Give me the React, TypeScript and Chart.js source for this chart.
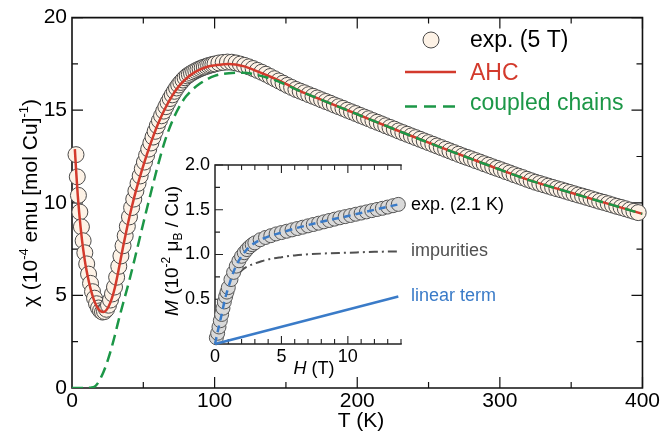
import React, { useEffect, useRef } from 'react';
import { Chart, registerables } from 'chart.js';

Chart.register(...registerables);

const FONT = '"Liberation Sans", Arial, Helvetica, sans-serif';

// ---------- main chart data ----------
const tempK = [
  2.8, 3.7, 4.5, 5.5, 6.6, 7.8, 9, 10.3, 11.6, 13, 14.4, 15.8, 17.2, 18.6, 20, 21.4, 22.8, 24.2, 25.6, 27, 28.4, 29.8,
  31.3, 32.8, 34.3, 35.8, 37.3, 38.8, 40.3, 41.8, 43.3, 44.8, 46.3, 47.8, 49.3, 50.8, 52.3, 53.8, 55.3, 56.8, 58.3, 59.8,
  61.3, 62.8, 64.3, 65.8, 67.3, 68.8, 70.3, 71.8, 73.3, 74.8, 76.3, 77.8, 79.3, 80.8, 82.3, 83.8, 85.3, 86.8, 88.3, 89.8,
  91.3, 92.8, 94.3, 95.8, 97.3, 98.8, 100.3,
  103, 106, 109, 112, 115, 118, 121, 124, 127, 130, 133, 136, 139, 142, 145, 148, 151, 154, 157, 160,
  163, 166, 169, 172, 175, 178, 181, 184, 187, 190, 193, 196, 199, 202, 205, 208, 211, 214, 217, 220,
  223, 226, 229, 232, 235, 238, 241, 244, 247, 250, 253, 256, 259, 262, 265, 268, 271, 274, 277, 280,
  283, 286, 289, 292, 295, 298, 301, 304, 307, 310, 313, 316, 319, 322, 325, 328, 331, 334, 337, 340,
  343, 346, 349, 352, 355, 358, 361, 364, 367, 370, 373, 376, 379, 382, 385, 388, 391, 394, 397,
];
const chiExp = [
  12.6, 11.4, 10.4, 9.5, 8.7, 7.95, 7.3, 6.7, 6.15, 5.65, 5.2, 4.85, 4.55, 4.32, 4.17, 4.1, 4.13, 4.25, 4.47, 4.75, 5.08, 5.45,
  5.98, 6.57, 7.13, 7.68, 8.22, 8.73, 9.24, 9.74, 10.2, 10.64, 11.05, 11.45, 11.84, 12.2, 12.56, 12.9, 13.23, 13.55, 13.86, 14.16,
  14.44, 14.7, 14.95, 15.19, 15.42, 15.63, 15.83, 16.02, 16.2, 16.36, 16.5, 16.63, 16.75, 16.85, 16.93, 17.0, 17.07, 17.13, 17.19, 17.24,
  17.29, 17.33, 17.37, 17.41, 17.44, 17.47, 17.5,
  17.55, 17.58, 17.6, 17.59, 17.55, 17.49, 17.42, 17.34, 17.25, 17.15, 17.05, 16.94, 16.82, 16.7, 16.58, 16.46, 16.34, 16.23, 16.12, 16.03,
  15.94, 15.84, 15.75, 15.66, 15.56, 15.47, 15.38, 15.28, 15.19, 15.1, 15.0, 14.91, 14.82, 14.72, 14.63, 14.54, 14.44, 14.35, 14.26, 14.16,
  14.07, 13.98, 13.88, 13.79, 13.7, 13.61, 13.52, 13.43, 13.34, 13.25, 13.16, 13.07, 12.98, 12.89, 12.8, 12.71, 12.62, 12.53, 12.45, 12.37,
  12.28, 12.2, 12.11, 12.03, 11.94, 11.86, 11.78, 11.69, 11.61, 11.52, 11.44, 11.36, 11.27, 11.19, 11.11, 11.04, 10.97, 10.9, 10.83, 10.76,
  10.7, 10.63, 10.56, 10.49, 10.42, 10.36, 10.29, 10.22, 10.15, 10.08, 10.02, 9.95, 9.88, 9.81, 9.75, 9.68, 9.61, 9.54, 9.47,
];

const ahcT = [2, 3, 4, 5, 6, 7, 8, 9, 10, 12, 14, 16, 18, 20, 22, 24, 26, 28, 30, 33, 36, 39, 42, 45, 48, 51, 54, 57, 60, 65, 70, 75, 80, 85, 90, 95, 100, 110, 120, 130, 140, 150, 160, 175, 200, 230, 260, 290, 320, 350, 375, 400];
const ahcChi = [12.9, 11.6, 10.45, 9.5, 8.7, 8.0, 7.4, 6.88, 6.42, 5.68, 5.08, 4.63, 4.32, 4.15, 4.1, 4.2, 4.45, 4.85, 5.4, 6.5, 7.7, 8.8, 9.8, 10.7, 11.5, 12.25, 12.95, 13.6, 14.2, 15.05, 15.75, 16.3, 16.7, 17.0, 17.2, 17.35, 17.42, 17.5, 17.38, 17.1, 16.78, 16.42, 16.03, 15.56, 14.78, 13.85, 12.95, 12.08, 11.24, 10.54, 9.97, 9.4];

const chainT = [0, 5, 10, 13, 16, 18, 20, 22, 24, 26, 28, 30, 32, 34, 37, 40, 45, 50, 55, 60, 65, 70, 75, 80, 90, 100, 110, 120, 130, 140, 150, 160, 175, 200, 230, 260, 290, 320, 350, 375, 400];
const chainChi = [0, 0, 0, 0.02, 0.08, 0.25, 0.52, 0.85, 1.25, 1.72, 2.25, 2.82, 3.45, 4.05, 4.9, 5.75, 7.3, 8.9, 10.45, 11.95, 13.3, 14.35, 15.15, 15.75, 16.45, 16.85, 17.0, 17.02, 16.9, 16.68, 16.38, 16.03, 15.56, 14.78, 13.85, 12.95, 12.08, 11.24, 10.54, 9.97, 9.4];

const mainXTicks = [0, 100, 200, 300, 400];
const mainYTicks = [0, 5, 10, 15, 20];

// ---------- inset data ----------
const fieldH = [
  0.1, 0.2, 0.3, 0.4, 0.5, 0.6, 0.7, 0.8, 0.9, 1.0, 1.2, 1.4, 1.6, 1.8, 2.0, 2.2, 2.4, 2.6, 2.8, 3.0,
  3.4, 3.8, 4.2, 4.6, 5.0, 5.4, 5.8, 6.2, 6.6, 7.0, 7.4, 7.8, 8.2, 8.6, 9.0, 9.4, 9.8, 10.2, 10.6, 11.0,
  11.4, 11.8, 12.2, 12.6, 13.0, 13.4, 13.8,
];
const magExp = [
  0.07, 0.12, 0.19, 0.26, 0.33, 0.4, 0.47, 0.53, 0.58, 0.63, 0.72, 0.8, 0.87, 0.93, 0.98, 1.02, 1.055, 1.085, 1.11, 1.13,
  1.165, 1.19, 1.21, 1.23, 1.245, 1.26, 1.275, 1.29, 1.305, 1.32, 1.335, 1.35, 1.365, 1.38, 1.395, 1.41, 1.423, 1.436, 1.45, 1.463,
  1.476, 1.49, 1.503, 1.516, 1.53, 1.545, 1.56,
];
const fitH = [0, 0.25, 0.5, 0.75, 1, 1.5, 2, 2.5, 3, 4, 5, 6, 8, 10, 12, 13.8];
const fitM = [0, 0.17, 0.33, 0.5, 0.63, 0.845, 0.98, 1.07, 1.13, 1.2, 1.245, 1.29, 1.365, 1.43, 1.5, 1.56];
const impH = [0, 0.5, 1, 1.5, 2, 2.5, 3, 3.5, 4, 5, 6, 8, 10, 12, 13.8];
const impM = [0, 0.3, 0.55, 0.72, 0.82, 0.87, 0.9, 0.925, 0.945, 0.97, 0.99, 1.01, 1.02, 1.03, 1.035];
const linH = [0, 13.8];
const linM = [0, 0.53];

const insetXTicks = [0, 5, 10];
const insetYTicks = [0.5, 1.0, 1.5, 2.0];

const pts = (xs: number[], ys: number[]) => xs.map((x, i) => ({ x, y: ys[i] }));

type Run = { text: string; size: number; shift?: number; italic?: boolean };

function drawRich(ctx: CanvasRenderingContext2D, runs: Run[], x: number, y: number, rotate: boolean, color: string, align: 'center' | 'left' = 'center') {
  ctx.save();
  ctx.translate(x, y);
  if (rotate) ctx.rotate(-Math.PI / 2);
  ctx.fillStyle = color;
  ctx.textBaseline = 'alphabetic';
  ctx.textAlign = 'left';
  const fnt = (r: Run) => `${r.italic ? 'italic ' : ''}${r.size}px ${FONT}`;
  const widths = runs.map((r) => {
    ctx.font = fnt(r);
    return ctx.measureText(r.text).width;
  });
  const total = widths.reduce((a, b) => a + b, 0);
  let cx = align === 'center' ? -total / 2 : 0;
  runs.forEach((r, i) => {
    ctx.font = fnt(r);
    ctx.fillText(r.text, cx, -(r.shift || 0));
    cx += widths[i];
  });
  ctx.restore();
}

type FrameCfg = {
  id: string; top: boolean; right: boolean; xMinor: number; xMajor: number; yMinor: number; yMajor: number;
  major: number; minor: number; color: string; frameWidth: number; tickWidth: number;
};

const isMult = (v: number, m: number) => Math.abs(v / m - Math.round(v / m)) < 1e-6;

function framePlugin(cfg: FrameCfg) {
  return {
    id: cfg.id,
    beforeDatasetsDraw(chart: any) {
      const { ctx, chartArea: a } = chart;
      const xs = chart.scales.x;
      const ys = chart.scales.y;
      ctx.save();
      ctx.strokeStyle = cfg.color;
      ctx.lineWidth = cfg.frameWidth;
      ctx.lineCap = 'square';
      ctx.beginPath();
      ctx.moveTo(a.left, a.top);
      ctx.lineTo(a.left, a.bottom);
      ctx.lineTo(a.right, a.bottom);
      if (cfg.right) ctx.lineTo(a.right, a.top);
      if (cfg.top) {
        ctx.moveTo(a.left, a.top);
        ctx.lineTo(a.right, a.top);
      }
      ctx.stroke();
      ctx.lineCap = 'butt';
      ctx.lineWidth = cfg.tickWidth;
      ctx.beginPath();
      const nx = Math.round((xs.max - xs.min) / cfg.xMinor);
      for (let i = 1; i <= nx; i++) {
        const v = xs.min + i * cfg.xMinor;
        const px = xs.getPixelForValue(v);
        const L = isMult(v, cfg.xMajor) ? cfg.major : cfg.minor;
        ctx.moveTo(px, a.bottom);
        ctx.lineTo(px, a.bottom - L);
        if (cfg.top) {
          ctx.moveTo(px, a.top);
          ctx.lineTo(px, a.top + L);
        }
      }
      const ny = Math.round((ys.max - ys.min) / cfg.yMinor);
      for (let i = 1; i <= ny; i++) {
        const v = ys.min + i * cfg.yMinor;
        const py = ys.getPixelForValue(v);
        const L = isMult(v, cfg.yMajor) ? cfg.major : cfg.minor;
        ctx.moveTo(a.left, py);
        ctx.lineTo(a.left + L, py);
        if (cfg.right) {
          ctx.moveTo(a.right, py);
          ctx.lineTo(a.right - L, py);
        }
      }
      ctx.stroke();
      ctx.restore();
    },
  };
}

const RED = '#d33a2c';
const GREEN = '#1c9747';
const BLUE = '#3a7bc8';
const GRAY = '#505050';
const CREAM = '#fdf2e6';

const mainTextPlugin = {
  id: 'mainText',
  afterDraw(chart: any) {
    const ctx: CanvasRenderingContext2D = chart.ctx;
    drawRich(ctx, [
      { text: 'χ (10', size: 21 },
      { text: '-4', size: 13, shift: 9 },
      { text: ' emu [mol Cu]', size: 21 },
      { text: '-1', size: 13, shift: 9 },
      { text: ')', size: 21 },
    ], 37, 203, true, '#000');
    drawRich(ctx, [{ text: 'T (K)', size: 21 }], 361, 427, false, '#000');
    ctx.save();
    ctx.beginPath();
    ctx.arc(431, 40, 8, 0, Math.PI * 2);
    ctx.fillStyle = CREAM;
    ctx.fill();
    ctx.strokeStyle = '#4a4a4a';
    ctx.lineWidth = 1;
    ctx.stroke();
    ctx.lineWidth = 2.5;
    ctx.strokeStyle = RED;
    ctx.beginPath();
    ctx.moveTo(405, 72);
    ctx.lineTo(456, 72);
    ctx.stroke();
    ctx.strokeStyle = GREEN;
    ctx.setLineDash([12, 7]);
    ctx.beginPath();
    ctx.moveTo(405, 106.5);
    ctx.lineTo(456, 106.5);
    ctx.stroke();
    ctx.restore();
    drawRich(ctx, [{ text: 'exp. (5 T)', size: 23 }], 470, 47, false, '#000', 'left');
    drawRich(ctx, [{ text: 'AHC', size: 23 }], 470, 80, false, RED, 'left');
    drawRich(ctx, [{ text: 'coupled chains', size: 23 }], 470, 110, false, GREEN, 'left');
  },
};

const INSET_LEFT = 140;
const INSET_TOP = 140;
const INSET_W = 400;
const INSET_H = 250;

const insetTextPlugin = {
  id: 'insetText',
  afterDraw(chart: any) {
    const ctx: CanvasRenderingContext2D = chart.ctx;
    drawRich(ctx, [
      { text: 'M', size: 19, italic: true },
      { text: ' (10', size: 19 },
      { text: '-2', size: 12, shift: 8 },
      { text: ' μ', size: 19 },
      { text: 'B', size: 12, shift: -4 },
      { text: ' / Cu)', size: 19 },
    ], 178 - INSET_LEFT, 251 - INSET_TOP, true, '#000');
    drawRich(ctx, [{ text: 'H', size: 18, italic: true }, { text: ' (T)', size: 18 }], 314 - INSET_LEFT, 374 - INSET_TOP, false, '#000');
    drawRich(ctx, [{ text: 'exp. (2.1 K)', size: 18 }], 411 - INSET_LEFT, 210 - INSET_TOP, false, '#000', 'left');
    drawRich(ctx, [{ text: 'impurities', size: 18 }], 411 - INSET_LEFT, 256 - INSET_TOP, false, GRAY, 'left');
    drawRich(ctx, [{ text: 'linear term', size: 18 }], 411 - INSET_LEFT, 301 - INSET_TOP, false, BLUE, 'left');
  },
};

export default function App() {
  const mainRef = useRef<HTMLCanvasElement>(null);
  const insetRef = useRef<HTMLCanvasElement>(null);

  useEffect(() => {
    const mainChart = new Chart(mainRef.current as HTMLCanvasElement, {
      type: 'scatter',
      data: {
        datasets: [
          {
            label: 'coupled chains',
            data: pts(chainT, chainChi),
            showLine: true,
            borderColor: GREEN,
            borderWidth: 2.5,
            borderDash: [11, 6],
            pointRadius: 0,
            cubicInterpolationMode: 'monotone',
            fill: false,
          },
          {
            label: 'AHC',
            data: pts(ahcT, ahcChi),
            showLine: true,
            borderColor: RED,
            borderWidth: 2.5,
            pointRadius: 0,
            cubicInterpolationMode: 'monotone',
            fill: false,
          },
          {
            label: 'exp. (5 T)',
            data: pts(tempK, chiExp),
            showLine: false,
            pointRadius: 8,
            pointBackgroundColor: CREAM,
            pointBorderColor: '#4a4a4a',
            pointBorderWidth: 1,
            clip: false,
          },
        ] as any,
      },
      options: {
        animation: false,
        responsive: false,
        devicePixelRatio: 1,
        events: [],
        layout: { padding: { left: 0, right: 18, top: 17, bottom: 0 } },
        plugins: { legend: { display: false }, tooltip: { enabled: false } },
        scales: {
          x: {
            type: 'linear',
            min: 0,
            max: 400,
            afterFit: (s: any) => { s.height = 47; },
            afterBuildTicks: (s: any) => { s.ticks = mainXTicks.map((v) => ({ value: v })); },
            grid: { display: false, drawTicks: false },
            border: { display: false },
            ticks: { padding: 1, color: '#000', font: { size: 21, family: FONT }, maxRotation: 0 },
          },
          y: {
            type: 'linear',
            min: 0,
            max: 20,
            afterFit: (s: any) => { s.width = 72; },
            afterBuildTicks: (s: any) => { s.ticks = mainYTicks.map((v) => ({ value: v })); },
            grid: { display: false, drawTicks: false },
            border: { display: false },
            ticks: { padding: 5, color: '#000', font: { size: 21, family: FONT } },
          },
        },
      } as any,
      plugins: [
        framePlugin({ id: 'mainFrame', top: true, right: true, xMinor: 50, xMajor: 100, yMinor: 2.5, yMajor: 5, major: 11, minor: 6, color: '#111', frameWidth: 1.6, tickWidth: 1.2 }),
        mainTextPlugin,
      ],
    });

    const insetChart = new Chart(insetRef.current as HTMLCanvasElement, {
      type: 'scatter',
      data: {
        datasets: [
          {
            label: 'fit',
            data: pts(fitH, fitM),
            showLine: true,
            borderColor: BLUE,
            borderWidth: 2.5,
            borderDash: [7, 5],
            pointRadius: 0,
            cubicInterpolationMode: 'monotone',
            fill: false,
            clip: false,
          },
          {
            label: 'linear term',
            data: pts(linH, linM),
            showLine: true,
            borderColor: BLUE,
            borderWidth: 2.5,
            pointRadius: 0,
            fill: false,
            clip: false,
          },
          {
            label: 'exp. (2.1 K)',
            data: pts(fieldH, magExp),
            showLine: false,
            pointRadius: 7,
            pointBackgroundColor: '#d9d9d9',
            pointBorderColor: '#555',
            pointBorderWidth: 1,
            clip: false,
          },
          {
            label: 'impurities',
            data: pts(impH, impM),
            showLine: true,
            borderColor: GRAY,
            borderWidth: 2,
            borderDash: [9, 4, 2, 4],
            pointRadius: 0,
            cubicInterpolationMode: 'monotone',
            fill: false,
            clip: false,
          },
        ] as any,
      },
      options: {
        animation: false,
        responsive: false,
        devicePixelRatio: 1,
        events: [],
        layout: { padding: { left: 0, right: INSET_W - (401 - INSET_LEFT), top: 165 - INSET_TOP, bottom: 0 } },
        plugins: { legend: { display: false }, tooltip: { enabled: false } },
        scales: {
          x: {
            type: 'linear',
            min: 0,
            max: 14,
            afterFit: (s: any) => { s.height = INSET_H - (344 - INSET_TOP); },
            afterBuildTicks: (s: any) => { s.ticks = insetXTicks.map((v) => ({ value: v })); },
            grid: { display: false, drawTicks: false },
            border: { display: false },
            ticks: { padding: 2, color: '#000', font: { size: 18, family: FONT }, maxRotation: 0 },
          },
          y: {
            type: 'linear',
            min: 0,
            max: 2,
            afterFit: (s: any) => { s.width = 215 - INSET_LEFT; },
            afterBuildTicks: (s: any) => { s.ticks = insetYTicks.map((v) => ({ value: v })); },
            grid: { display: false, drawTicks: false },
            border: { display: false },
            ticks: { padding: 5, color: '#000', font: { size: 18, family: FONT }, callback: (v: any) => Number(v).toFixed(1) },
          },
        },
      } as any,
      plugins: [
        framePlugin({ id: 'insetFrame', top: true, right: false, xMinor: 1, xMajor: 5, yMinor: 0.25, yMajor: 0.5, major: 8, minor: 5, color: '#222', frameWidth: 1.5, tickWidth: 1.1 }),
        insetTextPlugin,
      ],
    });

    return () => {
      mainChart.destroy();
      insetChart.destroy();
    };
  }, []);

  return (
    <div style={{ position: 'fixed', left: 0, top: 0, width: 661, height: 435, background: '#fff', overflow: 'hidden' }}>
      <canvas ref={mainRef} width={661} height={435} style={{ position: 'absolute', left: 0, top: 0, width: 661, height: 435 }} />
      <canvas
        ref={insetRef}
        width={INSET_W}
        height={INSET_H}
        style={{ position: 'absolute', left: INSET_LEFT, top: INSET_TOP, width: INSET_W, height: INSET_H }}
      />
    </div>
  );
}
